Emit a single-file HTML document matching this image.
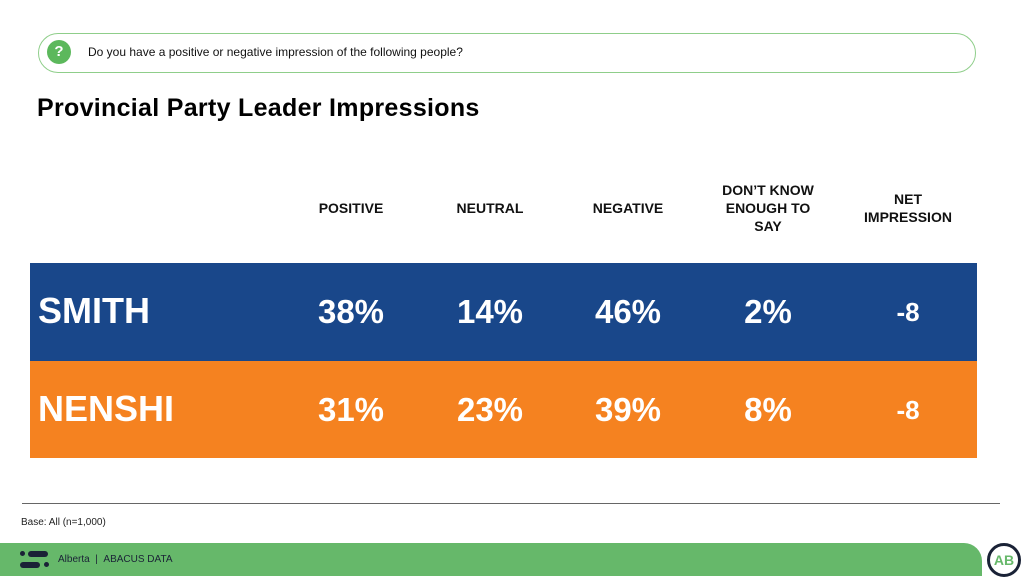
<!DOCTYPE html>
<html><head><meta charset="utf-8"><style>
body{margin:0;width:1024px;height:576px;position:relative;background:#fff;font-family:"Liberation Sans",sans-serif;overflow:hidden}
.abs{position:absolute}
.hdr{position:absolute;font-weight:bold;font-size:14px;color:#111;text-align:center;width:130px;line-height:18px}
.row{position:absolute;left:30px;width:947px;color:#fff;font-weight:bold}
.name{position:absolute;left:8px;font-size:36px}
.val{position:absolute;width:130px;text-align:center;font-size:33px}
</style></head><body>
<div class="abs" style="left:38px;top:33px;width:936px;height:38px;border:1px solid #8fce8a;border-radius:20px"></div>
<div class="abs" style="left:47px;top:40px;width:24px;height:24px;border-radius:50%;background:#5cb85c;color:#fff;font-weight:bold;text-align:center;line-height:24px;font-size:15px">?</div>
<div class="abs" style="left:88px;top:45px;font-size:12px;color:#111">Do you have a positive or negative impression of the following people?</div>
<div class="abs" style="left:37px;top:94px;font-size:25px;font-weight:bold;color:#000;letter-spacing:0.3px">Provincial Party Leader Impressions</div>
<div id="tbl"></div>
<div class="abs" style="left:22px;top:503px;width:978px;height:1px;background:#666"></div>
<div class="abs" style="left:21px;top:517px;font-size:10px;color:#222">Base: All (n=1,000)</div>
<div class="abs" style="left:0;top:543px;width:982px;height:33px;background:#66b86a;border-radius:0 18px 0 0"></div>
<div class="abs" style="left:20px;top:551px;width:30px;height:18px">
<div class="abs" style="left:0;top:0;width:5px;height:5px;border-radius:50%;background:#1a2236"></div>
<div class="abs" style="left:8px;top:0;width:20px;height:6px;border-radius:3px;background:#1a2236"></div>
<div class="abs" style="left:0;top:11px;width:20px;height:6px;border-radius:3px;background:#1a2236"></div>
<div class="abs" style="left:24px;top:11px;width:5px;height:5px;border-radius:50%;background:#1a2236"></div></div>
<div class="abs" style="left:58px;top:554px;font-size:10px;color:#1a2236">Alberta &nbsp;| &nbsp;ABACUS DATA</div>
<div class="abs" style="left:987px;top:543px;width:28px;height:28px;border:3px solid #1a2236;border-radius:50%;color:#66b86a;font-weight:bold;font-size:14px;text-align:center;line-height:28px">AB</div>
<script>
const columns=["POSITIVE","NEUTRAL","NEGATIVE","DON’T KNOW ENOUGH TO SAY","NET IMPRESSION"];
const leaders=["SMITH","NENSHI"];
const smithValues=["38%","14%","46%","2%","-8"];
const nenshiValues=["31%","23%","39%","8%","-8"];
const rowValues=[smithValues,nenshiValues];
const rowColors=["#19478a","#f58220"];
const colX=[351,490,628,768,908];
const t=document.getElementById('tbl');
columns.forEach((c,i)=>{const d=document.createElement('div');d.className='hdr';


const lines=c==="DON’T KNOW ENOUGH TO SAY"?3:(c==="NET IMPRESSION"?2:1);
d.style.width=(lines>1?100:130)+'px';d.style.left=(colX[i]-(lines>1?50:65))+'px';
d.style.top=(199-(lines-1)*9)+'px';d.textContent=c;t.appendChild(d);});
leaders.forEach((n,r)=>{const row=document.createElement('div');row.className='row';


row.style.top=(263+r*97.5)+'px';row.style.height='97.5px';row.style.background=rowColors[r];
const nm=document.createElement('div');nm.className='name';nm.style.top='27px';nm.textContent=n;


row.appendChild(nm);
rowValues[r].forEach((v,i)=>{const e=document.createElement('div');e.className='val';


e.style.left=(colX[i]-30-65)+'px';e.style.top='30px';e.textContent=v;
if(i==4)e.style.fontSize='26px',e.style.top='34px';row.appendChild(e);});
t.appendChild(row);});
</script>
</body></html>
